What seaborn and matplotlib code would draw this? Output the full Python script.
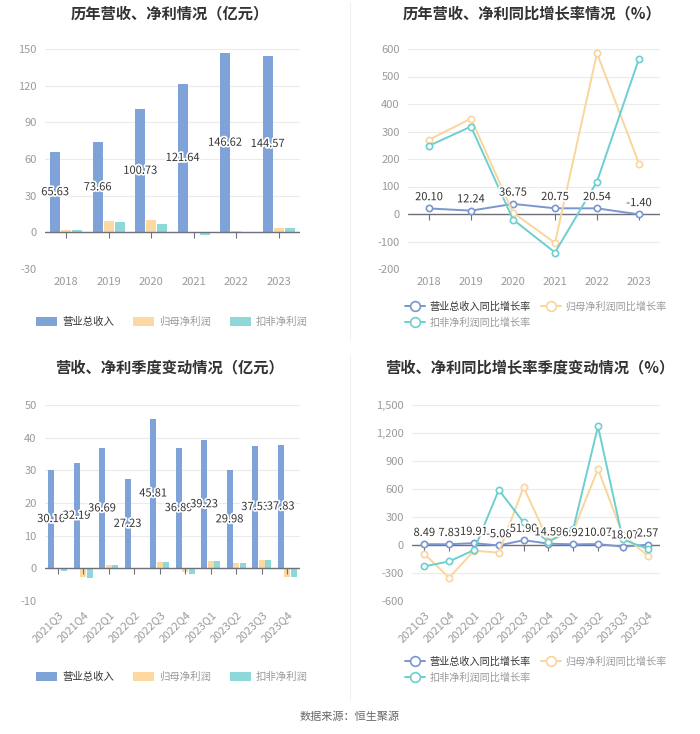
import matplotlib
matplotlib.use("Agg")
import matplotlib.pyplot as plt
import matplotlib.patheffects as pe
from matplotlib.lines import Line2D
from matplotlib.patches import Patch
from matplotlib.ticker import FuncFormatter
import pandas as pd
import seaborn as sns

# ---- data ----
years = ["2018", "2019", "2020", "2021", "2022", "2023"]
rev_year = [65.63, 73.66, 100.73, 121.64, 146.62, 144.57]
np_year = [1.9, 9.2, 10.0, -0.3, 0.8, 3.2]
dnp_year = [1.9, 8.1, 6.8, -2.4, -0.1, 3.2]

rev_yoy_year = [20.10, 12.24, 36.75, 20.75, 20.54, -1.40]
np_yoy_year = [270, 347, 5, -105, 585, 183]
dnp_yoy_year = [248, 318, -20, -140, 118, 565]

quarters = ["2021Q3", "2021Q4", "2022Q1", "2022Q2", "2022Q3",
            "2022Q4", "2023Q1", "2023Q2", "2023Q3", "2023Q4"]
rev_q = [30.16, 32.19, 36.69, 27.23, 45.81, 36.89, 39.23, 29.98, 37.53, 37.83]
np_q = [0.1, -2.7, 1.0, 0.05, 1.8, -1.0, 2.3, 1.7, 2.7, -2.7]
dnp_q = [-0.8, -3.0, 0.9, 0.03, 1.8, -1.7, 2.3, 1.7, 2.7, -2.5]

rev_yoy_q = [8.49, 7.83, 19.91, -5.08, 51.90, 14.59, 6.92, 10.07, -18.07, 2.57]
np_yoy_q = [-97, -351, -61, -82, 620, 45, 150, 814, 110, -115]
dnp_yoy_q = [-229, -176, -54, 591, 242, 36, 171, 1271, 60, -42]

bar_names = ["营业总收入", "归母净利润", "扣非净利润"]
line_names = ["营业总收入同比增长率", "归母净利润同比增长率", "扣非净利润同比增长率"]

BAR_COLORS = ["#7fa2d9", "#fdd9a2", "#8fd8da"]
LINE_COLORS = ["#7b96d0", "#fad59c", "#6dcfcf"]
TICK_GRAY = "#9a9a9a"
TEXT_DARK = "#333333"

sns.set_theme(style="white")
plt.rcParams["font.family"] = ["Noto Sans CJK SC", "DejaVu Sans"]
plt.rcParams["axes.unicode_minus"] = False

W, H = 700, 734
fig = plt.figure(figsize=(W / 100, H / 100), dpi=100)


def px_axes(x0, y0, x1, y1):
    return fig.add_axes([x0 / W, 1 - y1 / H, (x1 - x0) / W, (y1 - y0) / H])


def style_axes(ax, ylim, ticks, fmt=None, rotate=False):
    ax.set_ylim(*ylim)
    ax.set_yticks(ticks)
    for s in ax.spines.values():
        s.set_visible(False)
    ax.yaxis.grid(True, color="#ebebeb", lw=0.8)
    ax.set_axisbelow(True)
    ax.axhline(0, color="#6e7079", lw=1.0, zorder=1.5)
    n = len(ax.get_xticks())
    ax.plot(range(n), [0] * n, ls="none", marker=3, ms=4, color="#6e7079",
            mew=0.8, zorder=1.5)
    ax.tick_params(axis="both", length=0, labelsize=8, colors=TICK_GRAY, pad=6)
    if fmt:
        ax.yaxis.set_major_formatter(FuncFormatter(fmt))
    if rotate:
        for lab in ax.get_xticklabels():
            lab.set_rotation(45)
            lab.set_ha("right")
            lab.set_rotation_mode("anchor")
    ax.set_xlabel("")
    ax.set_ylabel("")


stroke = [pe.withStroke(linewidth=2.5, foreground="white")]


def bar_panel(ax, cats, rev, np_, dnp):
    df = pd.DataFrame({
        "period": cats * 3,
        "value": rev + np_ + dnp,
        "series": [bar_names[0]] * len(cats) + [bar_names[1]] * len(cats)
        + [bar_names[2]] * len(cats),
    })
    sns.barplot(data=df, x="period", y="value", hue="series",
                palette=BAR_COLORS, width=0.78, gap=0.12, ax=ax,
                legend=False, saturation=1, linewidth=0)
    ax.bar_label(ax.containers[0], labels=[f"{v:.2f}" for v in rev],
                 label_type="center", fontsize=8, color=TEXT_DARK,
                 path_effects=stroke)
    ax.set_xlim(-0.5, len(cats) - 0.5)


def line_panel(ax, cats, series):
    for name, vals, col in zip(line_names, series, LINE_COLORS):
        df = pd.DataFrame({"period": cats, "value": vals})
        sns.lineplot(data=df, x="period", y="value", ax=ax, color=col, lw=1.4,
                     marker="o", ms=4.5, mfc="white", mec=col, mew=1.2,
                     sort=False)
    for i, v in enumerate(series[0]):
        ax.annotate(f"{v:.2f}", (i, v), xytext=(0, 4.5), textcoords="offset points",
                    ha="center", va="bottom", fontsize=8, color=TEXT_DARK,
                    path_effects=stroke)
    ax.set_xlim(-0.5, len(cats) - 0.5)


def bar_legend(ax, y):
    handles = [Patch(facecolor=c, edgecolor="none") for c in BAR_COLORS]
    leg = ax.legend(handles, bar_names, loc="center", ncol=3, frameon=False,
                    bbox_to_anchor=(172 / W, 1 - y / H), bbox_transform=fig.transFigure,
                    fontsize=7.5, handlelength=2.0, handleheight=1.0,
                    columnspacing=1.8, handletextpad=0.5)
    for i, t in enumerate(leg.get_texts()):
        t.set_color(TEXT_DARK if i == 0 else TICK_GRAY)


def line_legend(ax, y):
    order = [0, 2, 1]
    handles = [Line2D([0], [0], color=LINE_COLORS[i], lw=1.4, marker="o", ms=7,
                      mfc="white", mec=LINE_COLORS[i], mew=1.2) for i in order]
    labels = [line_names[i] for i in order]
    leg = ax.legend(handles, labels, loc="upper left", ncol=2, frameon=False,
                    bbox_to_anchor=(396 / W, 1 - y / H), bbox_transform=fig.transFigure,
                    fontsize=7.3, handlelength=2.0, columnspacing=1.0,
                    handletextpad=0.4, labelspacing=0.6)
    for lab, t in zip(order, leg.get_texts()):
        t.set_color(TEXT_DARK if lab == 0 else TICK_GRAY)


comma = lambda v, _: f"{v:,.0f}"

# top-left
ax1 = px_axes(45, 49, 300, 269)
bar_panel(ax1, years, rev_year, np_year, dnp_year)
style_axes(ax1, (-30, 150), range(-30, 151, 30))
bar_legend(ax1, 322)

# top-right
ax2 = px_axes(408, 49, 660, 269)
line_panel(ax2, years, [rev_yoy_year, np_yoy_year, dnp_yoy_year])
style_axes(ax2, (-200, 600), range(-200, 601, 100))
line_legend(ax2, 292)

# bottom-left
ax3 = px_axes(45, 405, 300, 601)
bar_panel(ax3, quarters, rev_q, np_q, dnp_q)
style_axes(ax3, (-10, 50), range(-10, 51, 10), rotate=True)
bar_legend(ax3, 677)

# bottom-right
ax4 = px_axes(412, 405, 660, 601)
line_panel(ax4, quarters, [rev_yoy_q, np_yoy_q, dnp_yoy_q])
style_axes(ax4, (-600, 1500), range(-600, 1501, 300), fmt=comma, rotate=True)
line_legend(ax4, 647)

# titles
title_kw = dict(ha="center", va="center", fontsize=11, fontweight="bold", color=TEXT_DARK)
fig.text(170 / W, 1 - 13 / H, "历年营收、净利情况（亿元）", **title_kw)
fig.text(532 / W, 1 - 13 / H, "历年营收、净利同比增长率情况（%）", **title_kw)
fig.text(170 / W, 1 - 367 / H, "营收、净利季度变动情况（亿元）", **title_kw)
fig.text(530 / W, 1 - 367 / H, "营收、净利同比增长率季度变动情况（%）", **title_kw)
fig.text(0.5, 1 - 717 / H, "数据来源：恒生聚源", ha="center", va="center",
         fontsize=8, color="#666666")

# faint panel dividers
fig.add_artist(Line2D([350 / W, 350 / W], [1 - 2 / H, 1 - 340 / H],
                      color="#f0f0f0", lw=0.8))
fig.add_artist(Line2D([350 / W, 350 / W], [1 - 355 / H, 1 - 700 / H],
                      color="#f0f0f0", lw=0.8))

fig.savefig("out.png", dpi=100)
plt.close(fig)
